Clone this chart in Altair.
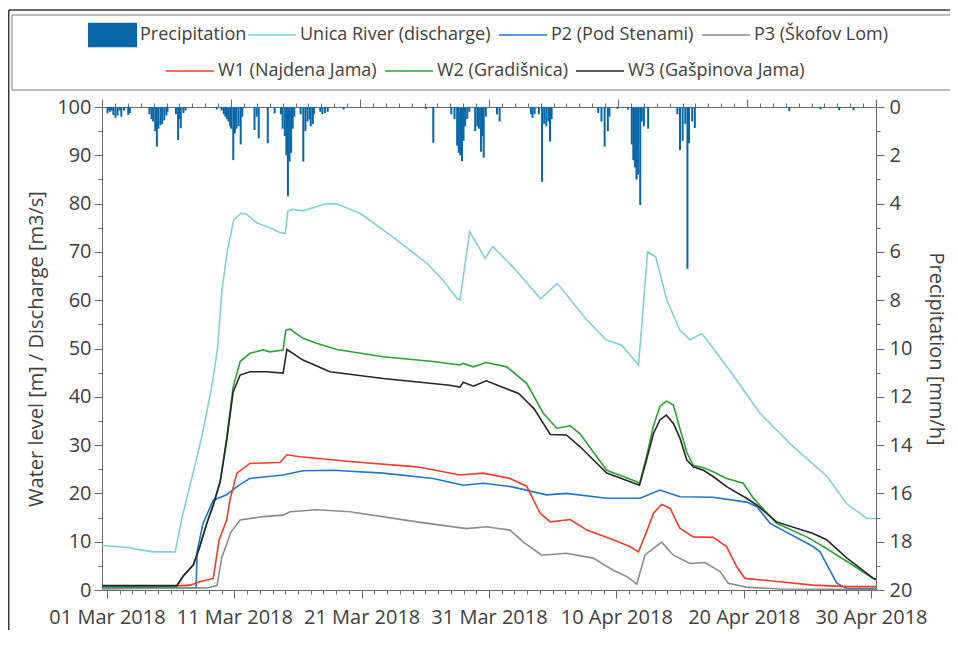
import altair as alt
import pandas as pd

# ---------------- data ----------------
precip_time = [
    "2018-03-01 01:00", "2018-03-01 04:00", "2018-03-01 06:00", "2018-03-01 09:00",
    "2018-03-01 12:00", "2018-03-01 16:00", "2018-03-01 20:00", "2018-03-02 00:00",
    "2018-03-02 03:00", "2018-03-02 08:00", "2018-03-02 16:00", "2018-03-02 19:00",
    "2018-03-04 08:00", "2018-03-04 12:00", "2018-03-04 15:00", "2018-03-04 19:00",
    "2018-03-04 22:00", "2018-03-05 01:00", "2018-03-05 05:00", "2018-03-05 08:00",
    "2018-03-05 12:00", "2018-03-05 16:00", "2018-03-05 18:00",
    "2018-03-06 10:00", "2018-03-06 14:00", "2018-03-06 16:00", "2018-03-06 19:00",
    "2018-03-07 00:00", "2018-03-07 04:00", "2018-03-09 15:00",
    "2018-03-10 00:00", "2018-03-10 04:00", "2018-03-10 07:00", "2018-03-10 10:00",
    "2018-03-10 13:00", "2018-03-10 16:00", "2018-03-10 18:00", "2018-03-10 22:00",
    "2018-03-11 01:00", "2018-03-11 04:00", "2018-03-11 08:00", "2018-03-11 12:00",
    "2018-03-11 15:00", "2018-03-12 14:00", "2018-03-12 18:00", "2018-03-12 22:00",
    "2018-03-13 15:00", "2018-03-14 04:00",
    "2018-03-14 16:00", "2018-03-14 19:00", "2018-03-14 23:00", "2018-03-15 02:00",
    "2018-03-15 05:00", "2018-03-15 08:00", "2018-03-15 11:00", "2018-03-15 14:00",
    "2018-03-15 17:00",
    "2018-03-16 05:00", "2018-03-16 10:00", "2018-03-16 14:00", "2018-03-16 18:00",
    "2018-03-16 22:00", "2018-03-17 00:00", "2018-03-17 04:00", "2018-03-17 06:00",
    "2018-03-17 18:00", "2018-03-17 22:00", "2018-03-18 03:00", "2018-03-18 08:00",
    "2018-03-19 14:00", "2018-03-26 01:00", "2018-03-26 15:00",
    "2018-03-28 01:00", "2018-03-28 07:00", "2018-03-28 12:00", "2018-03-28 15:00",
    "2018-03-28 18:00", "2018-03-28 21:00", "2018-03-29 00:00", "2018-03-29 03:00",
    "2018-03-29 07:00", "2018-03-29 11:00",
    "2018-03-29 22:00", "2018-03-30 02:00", "2018-03-30 05:00", "2018-03-30 09:00",
    "2018-03-30 12:00", "2018-03-30 14:00", "2018-03-30 18:00", "2018-03-31 15:00",
    "2018-03-31 20:00",
    "2018-04-03 07:00", "2018-04-03 10:00", "2018-04-03 14:00", "2018-04-03 22:00",
    "2018-04-04 04:00", "2018-04-04 08:00", "2018-04-04 12:00", "2018-04-04 16:00",
    "2018-04-04 19:00", "2018-04-04 22:00",
    "2018-04-08 14:00", "2018-04-08 20:00", "2018-04-09 02:00", "2018-04-09 08:00",
    "2018-04-09 11:00", "2018-04-10 02:00",
    "2018-04-10 22:00", "2018-04-11 05:00", "2018-04-11 08:00", "2018-04-11 11:00",
    "2018-04-11 14:00", "2018-04-11 17:00", "2018-04-11 21:00", "2018-04-12 00:00",
    "2018-04-12 04:00", "2018-04-12 12:00",
    "2018-04-14 19:00", "2018-04-15 00:00", "2018-04-15 05:00", "2018-04-15 10:00",
    "2018-04-15 14:00", "2018-04-15 17:00", "2018-04-15 23:00", "2018-04-16 04:00",
    "2018-04-23 14:00", "2018-04-26 01:00", "2018-04-27 12:00", "2018-04-28 15:00",
]
precip_mm = [
    0.26, 0.15, 0.2, 0.15,
    0.33, 0.45, 0.35, 0.15,
    0.4, 0.15, 0.33, 0.26,
    0.3, 0.5, 0.6, 1.0,
    1.64, 0.9, 0.75, 0.7,
    0.55, 0.35, 0.2,
    0.3, 1.37, 0.5, 0.88,
    0.25, 0.15, 0.1,
    0.15, 0.3, 0.4, 0.5,
    0.6, 0.8, 0.9, 2.2,
    1.1, 0.9, 0.8, 1.55,
    0.4, 0.95, 0.4, 1.3,
    1.5, 0.26,
    0.3, 0.9, 1.2, 2.0,
    3.7, 2.26, 1.9, 0.9,
    0.4,
    0.3, 2.26, 1.0, 0.6,
    0.5, 0.8, 0.7, 0.3,
    0.2, 0.3, 0.25, 0.2,
    0.1, 0.08, 1.48,
    0.3, 0.5, 1.6, 1.9,
    2.0, 2.24, 1.4, 0.8,
    0.5, 0.2,
    1.0, 0.8, 0.9, 1.85,
    1.2, 2.1, 0.4, 0.3,
    0.6,
    0.3, 0.45, 0.3, 0.3,
    3.1, 0.7, 0.8, 0.6,
    1.43, 0.5,
    0.25, 0.6, 1.64, 1.0,
    0.4, 0.08,
    0.1, 1.55, 2.2, 2.5,
    3.0, 2.8, 4.06, 0.6,
    0.8, 0.9,
    0.3, 1.78, 1.4, 0.7,
    6.7, 1.5, 0.6, 0.87,
    0.17, 0.1, 0.13, 0.13,
]

unica_time = [
    "2018-03-01 00:00", "2018-03-02 00:00", "2018-03-03 00:00", "2018-03-04 00:00",
    "2018-03-05 00:00", "2018-03-06 16:00", "2018-03-07 05:00", "2018-03-08 12:00",
    "2018-03-08 20:00", "2018-03-09 12:00", "2018-03-09 23:00", "2018-03-10 07:00",
    "2018-03-10 17:00", "2018-03-11 05:00", "2018-03-11 19:00", "2018-03-12 05:00",
    "2018-03-13 00:00", "2018-03-14 00:00", "2018-03-14 19:00", "2018-03-15 05:00",
    "2018-03-15 10:00", "2018-03-15 19:00", "2018-03-16 14:00", "2018-03-18 10:00",
    "2018-03-19 05:00", "2018-03-21 00:00", "2018-03-23 14:00", "2018-03-26 05:00",
    "2018-03-27 10:00", "2018-03-28 12:00", "2018-03-28 18:00", "2018-03-29 12:00",
    "2018-03-30 17:00", "2018-03-31 07:00", "2018-04-01 22:00", "2018-04-04 00:00",
    "2018-04-05 07:00", "2018-04-07 14:00", "2018-04-09 02:00", "2018-04-10 07:00",
    "2018-04-11 14:00", "2018-04-11 19:00", "2018-04-12 07:00", "2018-04-12 22:00",
    "2018-04-13 19:00", "2018-04-14 19:00", "2018-04-15 14:00", "2018-04-16 12:00",
    "2018-04-17 02:00", "2018-04-18 22:00", "2018-04-21 00:00", "2018-04-23 14:00",
    "2018-04-26 05:00", "2018-04-27 17:00", "2018-04-29 07:00", "2018-04-30 00:00",
]
unica_val = [
    9.2, 9.0, 8.8, 8.3,
    7.9, 7.9, 15.0, 29.0,
    33.0, 42.0, 50.0, 62.0,
    70.0, 76.6, 78.0, 77.8,
    76.0, 75.0, 74.0, 73.8,
    78.5, 78.8, 78.5, 80.0,
    79.9, 78.0, 73.0, 67.6,
    64.2, 60.4, 60.0, 74.2,
    68.7, 71.1, 66.7, 60.3,
    63.5, 55.9, 51.8, 50.7,
    46.6, 53.0, 70.0, 69.0,
    60.0, 53.8, 51.8, 53.1,
    51.1, 44.5, 36.6, 29.7,
    23.5, 17.9, 14.8, 14.8,
]

p2_time = [
    "2018-03-01 00:00", "2018-03-08 07:00", "2018-03-08 09:00", "2018-03-08 20:00",
    "2018-03-09 15:00", "2018-03-10 16:00", "2018-03-11 11:00", "2018-03-12 11:00",
    "2018-03-15 01:00", "2018-03-16 14:00", "2018-03-18 22:00", "2018-03-22 19:00",
    "2018-03-26 16:00", "2018-03-29 00:00", "2018-03-30 13:00", "2018-04-01 17:00",
    "2018-04-04 11:00", "2018-04-06 00:00", "2018-04-09 03:00", "2018-04-11 17:00",
    "2018-04-13 06:00", "2018-04-14 19:00", "2018-04-17 09:00", "2018-04-19 23:00",
    "2018-04-20 18:00", "2018-04-21 19:00", "2018-04-25 03:00", "2018-04-25 16:00",
    "2018-04-26 10:00", "2018-04-26 23:00", "2018-04-27 18:00", "2018-04-30 00:00",
]
p2_val = [
    0.4, 0.5, 8.0, 13.8,
    18.6, 19.7, 21.4, 23.1,
    23.8, 24.7, 24.8, 24.2,
    23.1, 21.7, 22.1, 21.4,
    19.7, 20.0, 19.0, 19.0,
    20.7, 19.3, 19.2, 18.2,
    17.3, 13.8, 9.0, 7.9,
    4.1, 1.4, 0.3, 0.3,
]

p3_time = [
    "2018-03-01 00:00", "2018-03-07 14:00", "2018-03-09 03:00", "2018-03-09 22:00",
    "2018-03-10 07:00", "2018-03-11 00:00", "2018-03-11 17:00", "2018-03-13 12:00",
    "2018-03-15 01:00", "2018-03-15 14:00", "2018-03-17 15:00", "2018-03-20 05:00",
    "2018-03-25 10:00", "2018-03-29 06:00", "2018-03-30 19:00", "2018-04-01 15:00",
    "2018-04-02 16:00", "2018-04-04 02:00", "2018-04-06 00:00", "2018-04-08 02:00",
    "2018-04-09 15:00", "2018-04-10 16:00", "2018-04-11 11:00", "2018-04-12 02:00",
    "2018-04-13 09:00", "2018-04-14 07:00", "2018-04-15 14:00", "2018-04-16 18:00",
    "2018-04-17 22:00", "2018-04-18 13:00", "2018-04-19 23:00", "2018-04-22 13:00",
    "2018-04-30 00:00",
]
p3_val = [
    0.2, 0.5, 0.4, 0.9,
    6.8, 12.0, 14.5, 15.2,
    15.5, 16.2, 16.6, 16.2,
    14.1, 12.7, 13.1, 12.4,
    9.9, 7.2, 7.6, 6.6,
    4.1, 2.8, 1.2, 7.2,
    9.9, 7.2, 5.5, 5.7,
    3.8, 1.4, 0.6, 0.2,
    0.1,
]

w1_time = [
    "2018-03-01 00:00", "2018-03-07 01:00", "2018-03-07 20:00", "2018-03-08 14:00",
    "2018-03-09 15:00", "2018-03-10 02:00", "2018-03-10 16:00", "2018-03-10 22:00",
    "2018-03-11 11:00", "2018-03-12 11:00", "2018-03-14 19:00", "2018-03-15 08:00",
    "2018-03-16 08:00", "2018-03-20 05:00", "2018-03-25 10:00", "2018-03-28 18:00",
    "2018-03-30 13:00", "2018-04-01 15:00", "2018-04-02 22:00", "2018-04-03 23:00",
    "2018-04-04 18:00", "2018-04-06 07:00", "2018-04-07 14:00", "2018-04-09 15:00",
    "2018-04-10 22:00", "2018-04-11 14:00", "2018-04-12 05:00", "2018-04-12 18:00",
    "2018-04-13 09:00", "2018-04-14 01:00", "2018-04-14 19:00", "2018-04-15 20:00",
    "2018-04-17 09:00", "2018-04-18 10:00", "2018-04-19 05:00", "2018-04-19 20:00",
    "2018-04-22 13:00", "2018-04-25 03:00", "2018-04-27 18:00", "2018-04-30 00:00",
]
w1_val = [
    0.8, 0.9, 1.0, 1.7,
    2.4, 10.4, 14.5, 18.6,
    24.2, 26.2, 26.4, 28.0,
    27.6, 26.6, 25.5, 23.8,
    24.2, 23.1, 21.5, 15.9,
    14.1, 14.6, 12.4, 10.4,
    9.0, 7.9, 12.0, 15.9,
    17.7, 16.9, 12.8, 11.0,
    10.9, 9.0, 4.8, 2.4,
    1.7, 1.0, 0.7, 0.7,
]

w2_time = [
    "2018-03-01 00:00", "2018-03-06 19:00", "2018-03-07 07:00", "2018-03-08 02:00",
    "2018-03-08 14:00", "2018-03-09 03:00", "2018-03-09 15:00", "2018-03-10 04:00",
    "2018-03-10 16:00", "2018-03-11 04:00", "2018-03-11 17:00", "2018-03-12 11:00",
    "2018-03-13 12:00", "2018-03-14 00:00", "2018-03-15 01:00", "2018-03-15 06:00",
    "2018-03-15 14:00", "2018-03-16 14:00", "2018-03-17 15:00", "2018-03-19 05:00",
    "2018-03-22 19:00", "2018-03-26 16:00", "2018-03-28 18:00", "2018-03-29 00:00",
    "2018-03-29 19:00", "2018-03-30 19:00", "2018-04-01 09:00", "2018-04-02 22:00",
    "2018-04-04 05:00", "2018-04-05 06:00", "2018-04-06 07:00", "2018-04-07 01:00",
    "2018-04-09 03:00", "2018-04-11 11:00", "2018-04-11 16:00", "2018-04-12 05:00",
    "2018-04-12 18:00", "2018-04-13 06:00", "2018-04-13 18:00", "2018-04-14 07:00",
    "2018-04-14 19:00", "2018-04-15 08:00", "2018-04-15 20:00", "2018-04-16 15:00",
    "2018-04-17 09:00", "2018-04-18 10:00", "2018-04-19 17:00", "2018-04-20 12:00",
    "2018-04-22 07:00", "2018-04-24 15:00", "2018-04-26 04:00", "2018-04-27 18:00",
    "2018-04-29 19:00", "2018-04-30 00:00",
]
w2_val = [
    0.7, 0.7, 2.8, 5.2,
    9.0, 13.8, 17.6, 22.6,
    31.5, 42.0, 47.3, 49.0,
    49.7, 49.3, 49.7, 53.8,
    54.0, 52.1, 51.1, 49.8,
    48.3, 47.3, 46.6, 46.9,
    46.2, 47.1, 46.2, 42.8,
    36.6, 33.5, 34.0, 32.4,
    24.8, 22.4, 22.0, 27.6,
    34.0, 38.0, 39.1, 38.3,
    33.5, 28.5, 25.8, 25.3,
    24.5, 23.1, 22.1, 19.0,
    13.8, 11.0, 8.6, 5.9,
    2.4, 2.2,
]

w3_time = [
    "2018-03-01 00:00", "2018-03-06 19:00", "2018-03-07 07:00", "2018-03-08 02:00",
    "2018-03-08 14:00", "2018-03-09 03:00", "2018-03-09 15:00", "2018-03-10 04:00",
    "2018-03-10 16:00", "2018-03-11 04:00", "2018-03-11 17:00", "2018-03-12 11:00",
    "2018-03-13 18:00", "2018-03-15 01:00", "2018-03-15 08:00", "2018-03-16 14:00",
    "2018-03-18 16:00", "2018-03-22 19:00", "2018-03-27 23:00", "2018-03-28 18:00",
    "2018-03-29 00:00", "2018-03-29 19:00", "2018-03-30 19:00", "2018-04-02 07:00",
    "2018-04-03 12:00", "2018-04-04 18:00", "2018-04-06 00:00", "2018-04-07 01:00",
    "2018-04-09 03:00", "2018-04-11 16:00", "2018-04-12 05:00", "2018-04-12 18:00",
    "2018-04-13 06:00", "2018-04-13 18:00", "2018-04-14 07:00", "2018-04-14 19:00",
    "2018-04-15 08:00", "2018-04-15 20:00", "2018-04-16 15:00", "2018-04-17 09:00",
    "2018-04-18 10:00", "2018-04-19 23:00", "2018-04-20 18:00", "2018-04-22 07:00",
    "2018-04-25 03:00", "2018-04-26 04:00", "2018-04-27 18:00", "2018-04-29 19:00",
    "2018-04-30 00:00",
]
w3_val = [
    0.9, 0.9, 2.9, 5.2,
    9.0, 13.8, 17.6, 22.4,
    31.0, 41.0, 44.5, 45.2,
    45.2, 44.9, 49.8, 47.6,
    45.2, 43.8, 42.4, 42.0,
    43.0, 42.2, 43.3, 40.7,
    37.5, 32.2, 32.1, 29.7,
    24.2, 21.7, 26.9, 32.4,
    35.2, 36.2, 34.5, 31.5,
    26.9, 25.5, 24.8, 23.5,
    21.4, 19.0, 17.6, 14.1,
    11.7, 10.4, 6.6, 2.4,
    2.2,
]

group1_names = ["Unica River (discharge)", "P2 (Pod Stenami)", "P3 (Škofov Lom)"]
group1_colors = ["#82d0d4", "#2474c2", "#8c8c8c"]
group2_names = ["W1 (Najdena Jama)", "W2 (Gradišnica)", "W3 (Gašpinova Jama)"]
group2_colors = ["#f03c2c", "#2f9f37", "#262626"]
precip_name = "Precipitation"
precip_color = "#0866a6"

# ---------------- tables ----------------
def series_df(name, times, vals):
    return pd.DataFrame({"series": name, "time": pd.to_datetime(times), "value": vals})

group1 = pd.concat([
    series_df(group1_names[0], unica_time, unica_val),
    series_df(group1_names[1], p2_time, p2_val),
    series_df(group1_names[2], p3_time, p3_val),
], ignore_index=True)
group2 = pd.concat([
    series_df(group2_names[0], w1_time, w1_val),
    series_df(group2_names[1], w2_time, w2_val),
    series_df(group2_names[2], w3_time, w3_val),
], ignore_index=True)
precip = pd.DataFrame({"series": precip_name, "time": pd.to_datetime(precip_time), "mm": precip_mm})
deco = pd.DataFrame({"k": [0]})

# ---------------- styling ----------------
FONT = "Open Sans"
TXT = "#404040"
AXC = "#6a6a6a"

x_domain = [alt.DateTime(year=2018, month=3, date=1), alt.DateTime(year=2018, month=4, date=30)]
day_ticks = [alt.DateTime(year=d.year, month=d.month, date=d.day)
             for d in pd.date_range("2018-03-01", "2018-04-30", freq="D")]
MAJOR = "round((datum.value - datetime(2018, 2, 1)) / 86400000) % 10 == 0"

def xscale():
    return alt.Scale(domain=x_domain, nice=False)

x_bottom_axis = alt.Axis(
    orient="bottom", values=day_ticks, title=None, grid=False,
    labelExpr=f"{MAJOR} ? timeFormat(datum.value, '%d %b %Y') : ''",
    labelOverlap=False, labelBound=False, labelFlush=False, labelAngle=0,
    labelFont=FONT, labelFontSize=20, labelColor=TXT, labelPadding=9,
    tickSize={"condition": {"test": MAJOR, "value": 8}, "value": 4},
    tickColor=AXC, domainColor=AXC,
)
x_top_axis = alt.Axis(
    orient="top", values=day_ticks, title=None, grid=False, labels=False,
    tickSize={"condition": {"test": MAJOR, "value": 8}, "value": 4},
    tickColor=AXC, domainColor=AXC,
)
y_left_axis = alt.Axis(
    orient="left", values=list(range(0, 101, 5)), grid=False,
    title="Water level [m] / Discharge [m3/s]",
    labelExpr="datum.value % 10 == 0 ? datum.label : ''",
    tickSize={"condition": {"test": "datum.value % 10 == 0", "value": 8}, "value": 4},
    labelFont=FONT, labelFontSize=20, labelColor=TXT, labelPadding=3,
    titleFont=FONT, titleFontSize=20, titleFontWeight="normal", titleColor=TXT, titlePadding=10,
    tickColor=AXC, domainColor=AXC,
)
y_right_axis = alt.Axis(
    orient="right", values=list(range(0, 21, 1)), grid=False,
    title="Precipitation [mm/h]",
    labelExpr="datum.value % 2 == 0 ? datum.label : ''",
    tickSize={"condition": {"test": "datum.value % 2 == 0", "value": 8}, "value": 4},
    labelFont=FONT, labelFontSize=20, labelColor=TXT, labelPadding=5,
    titleFont=FONT, titleFontSize=20, titleFontWeight="normal", titleColor=TXT, titlePadding=14,
    tickColor=AXC, domainColor=AXC,
)

legend_common = dict(
    title=None, orient="none", direction="horizontal", padding=0,
    labelFont=FONT, labelFontSize=18, labelColor=TXT, labelLimit=400,
    labelOffset=3, columnPadding=4,
)

# ---------------- layers ----------------
def hrule(x1, x2, y, color):
    return alt.Chart(deco).mark_rule(color=color, strokeWidth=1.5).encode(
        x=alt.value(x1), x2=alt.value(x2), y=alt.value(y))

def vrule(x, y1, y2, color):
    return alt.Chart(deco).mark_rule(color=color, strokeWidth=1.5).encode(
        x=alt.value(x), y=alt.value(y1), y2=alt.value(y2))

frame_top = hrule(-93.25, 848, -97, "#3a3a3a")
frame_left = vrule(-93.25, -97, 531, "#3a3a3a")
legend_top = hrule(-90, 848, -92, "#a6a6a6")
legend_bottom = hrule(-90, 848, -17, "#a6a6a6")
legend_left = vrule(-90, -92, -17, "#a6a6a6")

lines1 = alt.Chart(group1).mark_line(strokeWidth=1.6).encode(
    x=alt.X("time:T", scale=xscale(), axis=None),
    y=alt.Y("value:Q", scale=alt.Scale(domain=[0, 100], nice=False), axis=y_left_axis),
    color=alt.Color("series:N", scale=alt.Scale(domain=group1_names, range=group1_colors),
                    legend=alt.Legend(legendX=145, legendY=-97, symbolType="stroke",
                                      symbolSize=2304, symbolStrokeWidth=1.6, **legend_common)),
)

lines2 = alt.Chart(group2).mark_line(strokeWidth=1.6).encode(
    x=alt.X("time:T", scale=xscale(), axis=None),
    y=alt.Y("value:Q", scale=alt.Scale(domain=[0, 100], nice=False), axis=None),
    stroke=alt.Stroke("series:N", scale=alt.Scale(domain=group2_names, range=group2_colors),
                      legend=alt.Legend(legendX=63, legendY=-61, symbolType="stroke",
                                        symbolSize=2304, symbolStrokeWidth=1.6, **legend_common)),
)

bars = alt.Chart(precip).mark_bar(width=2).encode(
    x=alt.X("time:T", scale=xscale(), axis=x_bottom_axis),
    y=alt.Y("mm:Q", scale=alt.Scale(domain=[0, 20], reverse=True, nice=False), axis=y_right_axis),
    fill=alt.Fill("series:N", scale=alt.Scale(domain=[precip_name], range=[precip_color]),
                  legend=alt.Legend(legendX=-14, legendY=-96.5, symbolType="M-1,-0.5H1V0.5H-1Z",
                                    symbolSize=2401, symbolStrokeWidth=0, **legend_common)),
)

top_axis_layer = alt.Chart(group1).mark_point(opacity=0).encode(
    x=alt.X("time:T", scale=xscale(), axis=x_top_axis),
)

chart = alt.layer(
    frame_top, frame_left, legend_top, legend_bottom, legend_left,
    lines1, lines2, bars, top_axis_layer,
).resolve_scale(
    x="independent", y="independent"
).properties(
    width=774, height=483,
    autosize=alt.AutoSizeParams(type="none"),
    padding={"left": 94, "top": 99, "right": 74, "bottom": 40},
    background="white",
).configure_view(strokeWidth=0)

chart.save("out.html", embed_options={"renderer": "svg", "actions": False})
